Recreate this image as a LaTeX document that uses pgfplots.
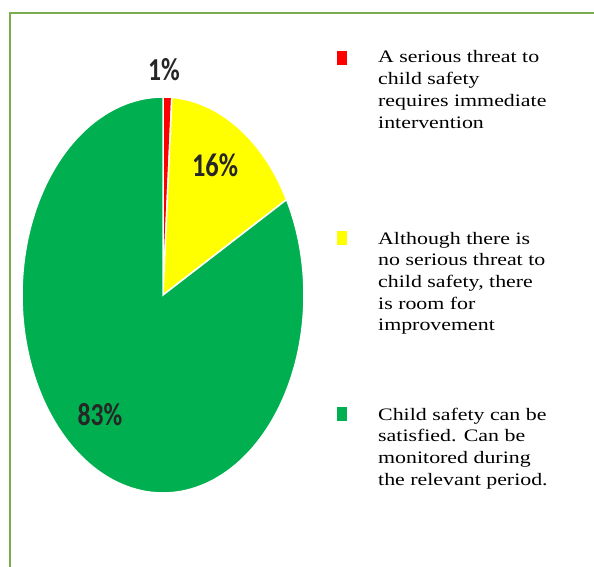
\documentclass[border=0pt]{standalone}
\usepackage{pgfplots}
\pgfplotsset{compat=1.18}
\usepackage{fontspec}
\setmainfont{Liberation Serif}
\newfontfamily\legfont[FakeStretch=1.25]{Liberation Serif}
\newfontfamily\pctfont[FakeStretch=0.8]{Carlito}
\definecolor{pieRed}{RGB}{255,0,0}
\definecolor{pieYellow}{RGB}{255,255,0}
\definecolor{pieGreen}{RGB}{0,176,80}
\definecolor{frameGreen}{RGB}{122,172,78}
% data (percent shares)
\newcommand{\vRed}{1}
\newcommand{\vYellow}{16}
\newcommand{\vGreen}{83}
\begin{document}
\begin{tikzpicture}
\pgfmathsetmacro{\aA}{90-3.6*\vRed}
\pgfmathsetmacro{\aB}{\aA-3.6*\vYellow}
\pgfmathsetmacro{\aC}{\aB-3.6*\vGreen}
\useasboundingbox (0,0) rectangle (594pt,566pt);
\fill[white] (0,0) rectangle (594pt,566pt);
\draw[frameGreen, line width=2.5pt] (10pt,-20pt) rectangle (620pt,553pt);
\begin{axis}[
  at={(163pt,271pt)}, anchor=center,
  scale only axis, width=282pt, height=396pt,
  xmin=-1, xmax=1, ymin=-1, ymax=1,
  hide axis, clip=false,
]
\addplot[fill=pieRed, draw=white, line width=1.5pt, domain=\aA:90, samples=5, variable=\t]
  ({cos(\t)},{sin(\t)}) -- (axis cs:0,0) -- cycle;
\addplot[fill=pieYellow, draw=white, line width=1.5pt, domain=\aB:\aA, samples=40, variable=\t]
  ({cos(\t)},{sin(\t)}) -- (axis cs:0,0) -- cycle;
\addplot[fill=pieGreen, draw=white, line width=1.5pt, domain=\aC:\aB, samples=160, variable=\t]
  ({cos(\t)},{sin(\t)}) -- (axis cs:0,0) -- cycle;
\node[font={\pctfont\fontsize{32}{34}\selectfont\bfseries}, text=black!85] at (axis cs:0.007,1.136) {1\%};
\node[font={\pctfont\fontsize{33}{34}\selectfont\bfseries}, text=black!85] at (axis cs:0.369,0.657) {16\%};
\node[font={\pctfont\fontsize{32}{34}\selectfont\bfseries}, text=black!85] at (axis cs:-0.447,-0.606) {83\%};
\end{axis}
% legend
\fill[pieRed] (337pt,501pt) rectangle (347pt,515pt);
\fill[pieYellow] (337pt,321pt) rectangle (347pt,335pt);
\fill[pieGreen] (337pt,145pt) rectangle (347pt,159pt);
\begin{scope}[every node/.style={anchor=base west, inner sep=0pt, font={\legfont\fontsize{17.5}{21.7}\selectfont}}]
\node at (378pt,503pt) {\parbox[t]{230pt}{A serious threat to\\child safety\\requires immediate\\intervention}};
\node at (378pt,322pt) {\parbox[t]{230pt}{Although there is\\no serious threat to\\child safety, there\\is room for\\improvement}};
\node at (378pt,146pt) {\parbox[t]{230pt}{Child safety can be\\satisfied. Can be\\monitored during\\the relevant period.}};
\end{scope}
\end{tikzpicture}
\end{document}
